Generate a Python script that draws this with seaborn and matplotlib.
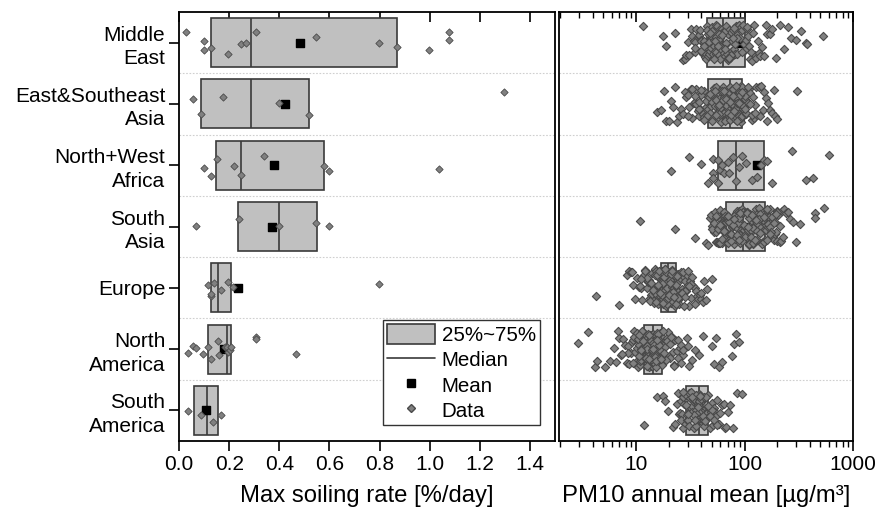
import numpy as np
import pandas as pd
import matplotlib
matplotlib.use("Agg")
import matplotlib.pyplot as plt
import seaborn as sns
from matplotlib.patches import Patch
from matplotlib.lines import Line2D
from matplotlib.ticker import LogLocator, NullFormatter, FixedLocator, FixedFormatter

# ---------------- data ----------------
regions = ["Middle\nEast", "East&Southeast\nAsia", "North+West\nAfrica", "South\nAsia",
           "Europe", "North\nAmerica", "South\nAmerica"]

# Max soiling rate [%/day] box statistics
soil_q1 = [0.127, 0.088, 0.148, 0.237, 0.128, 0.117, 0.061]
soil_med = [0.288, 0.288, 0.248, 0.399, 0.155, 0.191, 0.113]
soil_q3 = [0.871, 0.520, 0.580, 0.551, 0.209, 0.209, 0.155]
soil_mean = [0.481, 0.424, 0.377, 0.369, 0.237, 0.181, 0.108]

# Max soiling rate data points
soil_me = [0.027, 0.099, 0.099, 0.128, 0.197, 0.248, 0.268, 0.308, 0.548, 0.799, 0.870, 0.999, 1.079, 1.079]
soil_esa = [0.057, 0.088, 0.177, 0.397, 0.520, 1.297]
soil_nwa = [0.099, 0.128, 0.151, 0.219, 0.248, 0.339, 0.577, 0.600, 1.039]
soil_sa = [0.068, 0.239, 0.399, 0.548, 0.600]
soil_eu = [0.117, 0.127, 0.128, 0.140, 0.168, 0.197, 0.217, 0.799]
soil_na = [0.037, 0.057, 0.068, 0.097, 0.117, 0.128, 0.157, 0.160, 0.184, 0.191, 0.197, 0.204,
           0.208, 0.308, 0.308, 0.468]
soil_sam = [0.037, 0.088, 0.137, 0.168]

# PM10 annual mean [ug/m3] box statistics
pm_q1 = [45, 46, 57, 67, 16.8, 11.8, 28.7]
pm_med = [63, 73, 83, 97, 19.9, 14.3, 38]
pm_q3 = [101, 94, 150, 155, 23.4, 17.4, 46.5]
pm_mean = [89, 75, 130, 115, 20.5, 16, 40]

# PM10 data points
pm_me = [11.5, 17.9, 19, 23, 27, 28, 29, 30, 31, 32, 33, 34, 35, 35, 36, 37, 38, 38, 39, 40, 40, 41,
         41, 42, 42, 43, 43, 44, 44, 44,
         45, 46, 46, 47, 47, 48, 48, 49, 50, 50, 51, 52, 52, 53, 54, 54, 55, 55, 56, 56, 57, 58, 58,
         59, 60, 60, 61, 62, 62, 63,
         64, 65, 66, 67, 68, 69, 70, 71, 72, 73, 74, 75, 76, 77, 78, 79, 80, 81, 82, 83, 84, 85, 86,
         87, 88, 90, 92, 94, 96, 98,
         102, 104, 106, 108, 110, 113, 116, 119, 122, 125, 128, 132, 136, 140, 145, 150, 156, 162,
         170, 180, 195, 210, 230, 250, 270, 300, 330, 370, 374, 532,
         40, 45, 50, 55, 60, 65, 70, 75, 80, 85, 48, 53, 58, 68, 72, 78, 35, 42, 95, 105, 115, 52,
         57, 62, 66]
pm_esa = [15.5, 17, 18, 19, 20, 21, 22, 23, 24, 25, 26, 27, 28, 29, 30, 31, 32, 33, 34, 35, 36, 37,
          38, 39, 40, 41, 42, 43, 44, 45, 36, 38, 40, 42, 44, 45, 30, 33,
          46, 47, 48, 49, 50, 51, 52, 53, 54, 55, 56, 57, 58, 59, 60, 61, 62, 63, 64, 65, 66, 67,
          68, 69, 70, 71, 72, 73, 50, 55, 60, 65, 70, 72, 58, 62, 66, 68,
          73, 74, 75, 76, 77, 78, 79, 80, 81, 82, 83, 84, 85, 86, 87, 88, 89, 90, 91, 92, 93, 94,
          75, 78, 80, 82, 84, 86, 88, 90, 92, 76, 79, 83, 85, 89,
          95, 97, 99, 101, 103, 105, 108, 110, 113, 116, 119, 122, 125, 128, 131, 135, 139, 143,
          147, 151, 156, 161, 166, 172, 178, 185, 192, 198, 305, 96, 100, 104, 107, 112, 118, 124,
          40, 45, 50, 55, 60, 65, 70, 75, 80, 85, 90, 48, 53, 58, 63, 68, 73, 78, 83, 88, 35, 38,
          42, 95, 100]
pm_nwa = [20.8, 30.8, 39.4, 46.5, 51, 51, 51, 57, 57, 60, 62, 65, 70, 72, 79, 83, 88, 95, 103, 117,
          130, 143, 150, 160, 178, 275, 366, 428, 597]
pm_sa = [10.8, 22.7, 35, 44, 46, 48, 49, 50, 51, 52, 53, 54, 55, 56, 57, 58, 58, 59, 60, 60, 61,
         61, 62, 62, 63, 63, 64, 64, 65, 65, 66, 66, 50, 54, 57, 59, 62, 64, 66, 52,
         67, 68, 69, 70, 71, 72, 73, 74, 75, 76, 77, 78, 79, 80, 81, 82, 83, 84, 85, 86, 87, 88, 89,
         90, 91, 92, 93, 94, 95, 96, 97, 70, 75, 80, 85, 90, 95, 72, 78, 88,
         98, 100, 102, 104, 106, 108, 110, 112, 114, 116, 118, 120, 122, 124, 126, 128, 130, 132,
         134, 136, 138, 140, 142, 144, 146, 148, 150, 152, 154, 155, 105, 115, 125, 135, 145,
         110, 120, 130, 140, 150,
         156, 158, 160, 163, 166, 169, 172, 175, 178, 181, 185, 189, 193, 197, 201, 205, 210, 215,
         220, 224, 230, 240, 250, 260, 280, 300, 325, 447, 447, 543, 160, 165, 170, 180, 190, 200,
         175, 185, 195, 210,
         70, 80, 90, 100, 110, 120, 130, 140, 75, 85, 95, 105, 115, 125, 135, 60, 65, 150, 160,
         170, 88, 98, 108, 118, 128]
pm_eu = [4.3, 6.9, 8.2, 8.6, 9.0, 9.4, 9.8, 10.2, 10.6, 11.0, 11.4, 11.8, 12.2, 12.5, 12.8, 13.1,
         13.4, 13.7, 14.0, 14.2, 14.4, 14.6, 14.8, 15.0, 15.2, 15.4, 15.6, 15.8, 16.0, 16.2, 16.4,
         16.6, 16.7, 12.0, 13.0, 14.0, 15.0, 16.0, 15.5, 16.5,
         16.8, 16.9, 17.0, 17.1, 17.2, 17.3, 17.4, 17.5, 17.6, 17.7, 17.8, 17.9, 18.0, 18.1, 18.2,
         18.3, 18.4, 18.5, 18.6, 18.7, 18.8, 18.9, 19.0, 19.1, 19.2, 19.3, 19.4, 19.5, 19.6, 19.7,
         19.8, 19.9, 17.0, 17.5, 18.0, 18.5, 19.0, 19.5, 17.3, 18.3,
         20.0, 20.1, 20.2, 20.3, 20.4, 20.5, 20.6, 20.7, 20.8, 20.9, 21.0, 21.1, 21.2, 21.3, 21.4,
         21.5, 21.6, 21.7, 21.8, 21.9, 22.0, 22.1, 22.2, 22.3, 22.4, 22.5, 22.6, 22.7, 22.8, 22.9,
         23.0, 23.1, 23.2, 23.3, 20.5, 21.0, 21.5, 22.0, 22.5, 23.0,
         23.5, 23.8, 24.1, 24.4, 24.7, 25.0, 25.4, 25.8, 26.2, 26.6, 27.0, 27.5, 28.0, 28.5, 29.0,
         29.6, 30.2, 30.8, 31.5, 32.2, 33.0, 33.8, 34.6, 35.5, 36.5, 37.5, 38.5, 39.5, 41, 42.5,
         44, 44.9, 50, 24.0, 25.0, 26.0, 27.0, 28.0, 30.0, 32.0,
         14.5, 15.1, 15.7, 16.3, 16.9, 17.2, 17.6, 17.9, 18.2, 18.6, 18.9, 19.2, 19.6, 19.9, 20.2,
         20.6, 20.9, 21.2, 21.6, 21.9, 22.2, 22.6, 22.9, 23.2, 23.6, 24.2, 25.2, 26.4, 28.2, 31,
         13.5, 14.2, 15.3, 16.1, 17.4, 18.1, 18.8, 19.3, 20.4, 21.3, 22.1, 23.4, 24.6, 27.4, 35,
         10.8, 12.6, 9.2, 11.2, 40, 17.8, 18.4, 19.1, 19.7, 20.3, 20.8, 21.4, 22.3, 16.6, 13.8]
pm_na = [2.9, 3.6, 4.2, 4.4, 5.2, 5.8, 6.2, 6.6, 7.0, 7.3, 7.6, 7.9, 8.2, 8.5, 8.7, 9.0, 9.2, 9.4,
         9.6, 9.8, 10.0, 10.2, 10.3, 10.5, 10.6, 10.8, 10.9, 11.0, 11.1, 11.2, 11.3, 11.4, 11.5,
         11.6, 11.7, 9.5, 10.4, 11.0,
         11.8, 11.9, 12.0, 12.1, 12.2, 12.3, 12.4, 12.5, 12.6, 12.7, 12.8, 12.9, 13.0, 13.1, 13.2,
         13.3, 13.4, 13.5, 13.6, 13.7, 13.8, 13.9, 14.0, 14.1, 14.2, 14.3, 12.0, 12.5, 13.0, 13.5,
         14.0, 12.2, 12.8, 13.2, 13.8, 12.4, 13.4, 14.2,
         14.4, 14.5, 14.6, 14.7, 14.8, 14.9, 15.0, 15.1, 15.2, 15.3, 15.4, 15.5, 15.6, 15.7, 15.8,
         15.9, 16.0, 16.1, 16.2, 16.3, 16.4, 16.5, 16.6, 16.7, 16.8, 16.9, 17.0, 17.1, 17.2, 17.3,
         15.0, 15.5, 16.0, 16.5, 17.0, 14.8, 15.8, 16.8,
         17.5, 17.8, 18.1, 18.4, 18.7, 19.0, 19.4, 19.8, 20.2, 20.6, 21.0, 21.5, 22.0, 22.5, 23.0,
         23.6, 24.2, 24.8, 25.5, 26.2, 27.0, 27.3, 29.3, 30, 31, 33, 35, 38, 41.7, 50, 52, 55, 58,
         61.6, 76, 80, 84, 88,
         12.1, 12.6, 13.1, 13.6, 14.1, 14.6, 15.1, 15.6, 16.1, 16.6, 11.9, 12.3, 12.7, 13.3, 13.7,
         14.4, 14.9, 15.4, 15.9, 16.4, 17.1, 17.6, 18.2, 19.2, 20.4, 22.2, 24.5, 10.1, 10.7, 11.3,
         9.3, 8.4, 7.4, 6.8, 12.9, 13.9, 14.7, 15.3, 11.6, 16.2, 13.2, 14.2, 12.5, 15.7, 18.8, 21.2,
         26, 11.1, 10.6, 16.9]
pm_sam = [11.9, 15.7, 17.9, 18.5, 19.9, 22, 23, 24, 24.5, 25, 25.5, 26, 26.5, 27, 27.3, 27.6, 28,
          28.2, 28.4, 28.6, 26, 27,
          28.8, 29.2, 29.6, 30, 30.5, 31, 31.5, 32, 32.5, 33, 33.5, 34, 34.5, 35, 35.5, 36, 36.5,
          37, 37.5, 38, 31, 34,
          38.2, 38.6, 39, 39.4, 39.8, 40.2, 40.6, 41, 41.4, 41.8, 42.2, 42.6, 43, 43.4, 43.8, 44.2,
          44.6, 45, 45.4, 45.8, 46.2, 42,
          47, 48, 49, 50, 51, 52, 53, 54, 55, 56, 58, 60, 62, 64, 66, 68, 70, 74, 78, 85, 94, 50,
          30, 32, 34, 36, 38, 40, 42, 44, 46, 33, 35, 37, 39, 41, 43, 29, 27, 48, 52, 56]

soil_points = [soil_me, soil_esa, soil_nwa, soil_sa, soil_eu, soil_na, soil_sam]
pm_points = [pm_me, pm_esa, pm_nwa, pm_sa, pm_eu, pm_na, pm_sam]

soil_df = pd.DataFrame({"region": [r for r, v in zip(regions, soil_points) for _ in v],
                        "value": [x for v in soil_points for x in v]})
pm_df = pd.DataFrame({"region": [r for r, v in zip(regions, pm_points) for _ in v],
                      "value": [x for v in pm_points for x in v]})

# ---------------- style ----------------
sns.set_style("ticks")
plt.rcParams["font.family"] = ["Liberation Sans", "DejaVu Sans"]
plt.rcParams["axes.linewidth"] = 1.3
for k in ("text.color", "axes.labelcolor", "xtick.color", "ytick.color", "axes.edgecolor"):
    plt.rcParams[k] = "black"

BOX_FACE = "#c0c0c0"
EDGE = "#3a3a3a"
PT_FACE = "#808080"
PT_EDGE = "#4a4a4a"

fig = plt.figure(figsize=(8.78, 5.18), dpi=100)
axL = fig.add_axes([0.2039, 0.1486, 0.4282, 0.8282])
axR = fig.add_axes([0.6367, 0.1486, 0.3349, 0.8282])

pos = np.arange(len(regions))
np.random.seed(7)


def draw(ax, df, q1, med, q3, mean, jitter, msize, medge):
    sns.stripplot(data=df, x="value", y="region", order=regions, orient="h", jitter=jitter,
                  marker="D", size=msize, color=PT_FACE, edgecolor=PT_EDGE, linewidth=medge,
                  ax=ax, zorder=5)
    ax.barh(pos, np.array(q3) - np.array(q1), left=q1, height=0.8, color=BOX_FACE,
            edgecolor=EDGE, linewidth=1.2, zorder=2)
    ax.vlines(med, pos - 0.4, pos + 0.4, color=EDGE, linewidth=1.2, zorder=3)
    ax.scatter(mean, pos, marker="s", s=34, color="black", zorder=4)
    for y in pos[:-1] + 0.5:
        ax.axhline(y, color="#cfcfcf", linestyle=(0, (1.5, 1.5)), linewidth=0.8, zorder=1)
    ax.set_ylim(len(regions) - 0.5, -0.5)


draw(axL, soil_df, soil_q1, soil_med, soil_q3, soil_mean, 0.2, 3.7, 0.6)
draw(axR, pm_df, pm_q1, pm_med, pm_q3, pm_mean, 0.3, 4.2, 0.8)

# left axis formatting
axL.set_xlim(0, 1.5)
axL.set_xticks(np.arange(0, 1.41, 0.2))
axL.set_xticklabels([f"{v:.1f}" for v in np.arange(0, 1.41, 0.2)])
axL.tick_params(axis="x", which="major", direction="out", length=7, width=1.2,
                top=True, labeltop=False, labelsize=15, pad=3)
axL.tick_params(axis="y", direction="out", length=7, width=1.2, labelsize=15, pad=3)
axL.set_ylabel("")
axL.set_xlabel("Max soiling rate [%/day]", fontsize=17.2, labelpad=8)
for lab in axL.get_yticklabels():
    lab.set_multialignment("right")
    lab.set_linespacing(1.3)

# right axis formatting
axR.set_xscale("log")
axR.set_xlim(1.95, 1000)
axR.xaxis.set_major_locator(FixedLocator([10, 100, 1000]))
axR.xaxis.set_major_formatter(FixedFormatter(["10", "100", "1000"]))
axR.xaxis.set_minor_locator(LogLocator(base=10, subs=np.arange(2, 10), numticks=20))
axR.xaxis.set_minor_formatter(NullFormatter())
axR.tick_params(axis="x", which="major", direction="out", length=7, width=1.2,
                top=True, labeltop=False, labelsize=15, pad=3)
axR.tick_params(axis="x", which="minor", direction="out", length=4, width=1.0, top=True)
axR.tick_params(axis="y", left=False, labelleft=False)
axR.set_ylabel("")
axR.set_xlabel("PM10 annual mean [µg/m³]", fontsize=17.2, labelpad=8)

# top ticks point inward
for ax in (axL, axR):
    for t in ax.xaxis.get_major_ticks() + ax.xaxis.get_minor_ticks():
        t.tick2line.set_marker(matplotlib.lines.TICKDOWN)
    for s in ax.spines.values():
        s.set_visible(True)
        s.set_color("black")

handles = [Patch(facecolor=BOX_FACE, edgecolor=EDGE, linewidth=1.2),
           Line2D([], [], color=EDGE, linewidth=1.2),
           Line2D([], [], marker="s", color="black", linestyle="none", markersize=6),
           Line2D([], [], marker="D", color=PT_FACE, markeredgecolor=PT_EDGE,
                  linestyle="none", markersize=4.5)]
leg = axL.legend(handles, ["25%~75%", "Median", "Mean", "Data"], loc="lower right",
                 bbox_to_anchor=(0.96, 0.037), borderaxespad=0, fontsize=14.8,
                 frameon=True, fancybox=False, edgecolor="#333333", framealpha=1,
                 handlelength=2.3, handleheight=1.15, labelspacing=0.2,
                 handletextpad=0.35, borderpad=0.2)
leg.get_frame().set_linewidth(1.0)

fig.savefig("out.png", dpi=100)
